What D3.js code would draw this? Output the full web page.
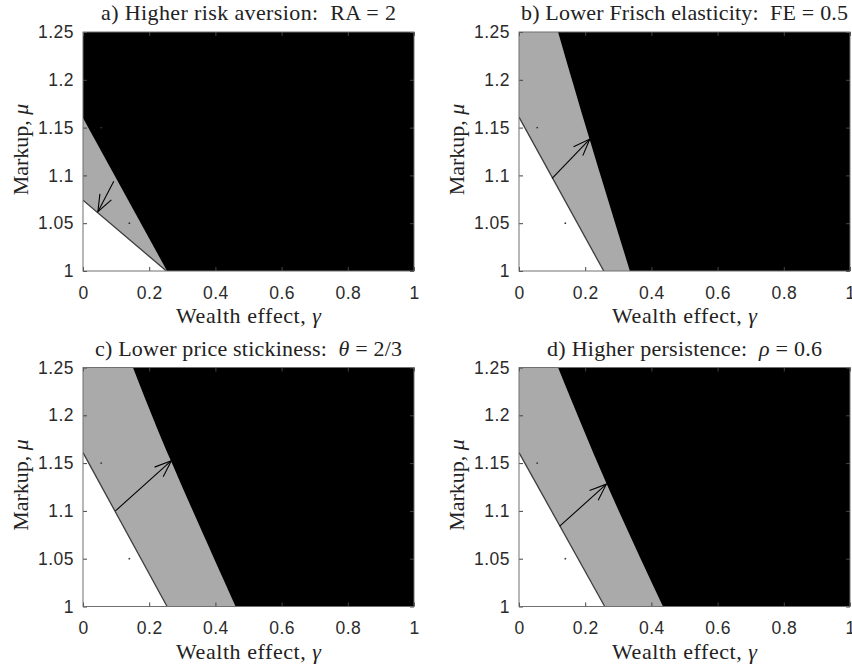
<!DOCTYPE html>
<html>
<head>
<meta charset="utf-8">
<script src="https://cdn.jsdelivr.net/npm/d3@7"></script>
<style>
  body { margin: 0; background: #fff; }
  svg { display: block; }
  .tick text { font-family: "Liberation Sans", Arial, sans-serif; font-size: 17.5px; fill: #2b2b2b; letter-spacing: 0.5px; }
  .ttl, .lbl { font-family: "Liberation Serif", "Times New Roman", serif; font-size: 22px; fill: #222; }
</style>
</head>
<body>
<svg width="852" height="668"></svg>
<script>
// ---- data ----
const xTicks = [0, 0.2, 0.4, 0.6, 0.8, 1]
const yTicks = [1, 1.05, 1.1, 1.15, 1.2, 1.25]
const xTickLabels = ["0", "0.2", "0.4", "0.6", "0.8", "1"]
const yTickLabels = ["1", "1.05", "1.1", "1.15", "1.2", "1.25"]

// title pieces: [text, italic?]
const titles = [
    [["a) Higher risk aversion:  RA = 2", false]],
    [["b) Lower Frisch elasticity:  FE = 0.5", false]],
    [["c) Lower price stickiness:  ", false], ["θ", true], [" = 2/3", false]],
    [["d) Higher persistence:  ", false], ["ρ", true], [" = 0.6", false]]
]
const titleWidths = [295, 327, 307, 275]

// white / gray frontier (gamma, mu)
const lowerBounds = [
    [[0, 1.074], [0.252, 1.0]],
    [[0, 1.161], [0.256, 1.0]],
    [[0, 1.161], [0.254, 1.0]],
    [[0, 1.161], [0.259, 1.0]]
]
// gray / black frontier
const upperBounds = [
    [[0, 1.16], [0.254, 1.0]],
    [[0.118, 1.25], [0.214, 1.137], [0.335, 1.0]],
    [[0.151, 1.25], [0.265, 1.153], [0.461, 1.0]],
    [[0.118, 1.25], [0.264, 1.129], [0.435, 1.0]]
]
// arrows: from -> to
const arrows = [
    [[0.093, 1.094], [0.045, 1.062]],
    [[0.100, 1.097], [0.214, 1.138]],
    [[0.098, 1.100], [0.267, 1.1525]],
    [[0.123, 1.084], [0.264, 1.128]]
]
// tiny specks visible in the plots
const specks = [[0.055, 1.15], [0.14, 1.05]]

// ---- layout ----
const svg = d3.select('svg')
const plotW = 331, plotH = 239
const origins = [[83, 32], [519, 32], [83, 367.5], [519, 367.5]]

const x = d3.scaleLinear().domain([0, 1]).range([0, plotW])
const y = d3.scaleLinear().domain([1, 1.25]).range([plotH, 0])
const line = d3.line().x(d => x(d[0])).y(d => y(d[1]))
const curve = d3.line().x(d => x(d[0])).y(d => y(d[1])).curve(d3.curveNatural)

svg.append('defs').append('clipPath').attr('id', 'plotclip')
    .append('rect').attr('width', plotW).attr('height', plotH)

function drawPanel(i) {
    const g = svg.append('g').attr('transform', `translate(${origins[i][0]},${origins[i][1]})`)
    const area = g.append('g').attr('clip-path', 'url(#plotclip)')

    // black everywhere first
    area.append('rect').attr('width', plotW).attr('height', plotH).attr('fill', '#000')

    // gray region: left of the upper frontier
    let up = upperBounds[i]
    let grayPath = curve(up) + 'L' + x(0) + ',' + y(1) + 'L' + x(0) + ',' + y(up[0][1]) + 'Z'
    area.append('path').attr('d', grayPath).attr('fill', '#aaaaaa')

    // white region: below the lower frontier
    let low = lowerBounds[i]
    area.append('path').attr('d', line(low.concat([[0, 1]])) + 'Z').attr('fill', '#fff')
    area.append('path').attr('d', line(low)).attr('fill', 'none')
        .attr('stroke', '#3c3c3c').attr('stroke-width', 1.3)

    area.selectAll('circle.speck').data(specks).enter().append('circle')
        .attr('class', 'speck')
        .attr('cx', d => x(d[0])).attr('cy', d => y(d[1])).attr('r', 0.9).attr('fill', '#333')

    // arrow with open head
    let a = arrows[i]
    let x0 = x(a[0][0]), y0 = y(a[0][1]), x1 = x(a[1][0]), y1 = y(a[1][1])
    let ang = Math.atan2(y1 - y0, x1 - x0), wing = 18, spread = 21 * Math.PI / 180
    let head = [
        [x1 + wing * Math.cos(ang + Math.PI - spread), y1 + wing * Math.sin(ang + Math.PI - spread)],
        [x1, y1],
        [x1 + wing * Math.cos(ang + Math.PI + spread), y1 + wing * Math.sin(ang + Math.PI + spread)]
    ]
    area.append('line').attr('x1', x0).attr('y1', y0).attr('x2', x1).attr('y2', y1)
        .attr('stroke', '#000').attr('stroke-width', 1.1)
    area.append('path').attr('d', d3.line()(head)).attr('fill', 'none')
        .attr('stroke', '#000').attr('stroke-width', 1.1)

    // axes, ticks pointing inward
    const xAxis = d3.axisBottom(x).tickValues(xTicks).tickSizeInner(-4).tickSizeOuter(0).tickPadding(12)
        .tickFormat((d, k) => xTickLabels[k])
    const yAxis = d3.axisLeft(y).tickValues(yTicks).tickSizeInner(-4).tickSizeOuter(0).tickPadding(9)
        .tickFormat((d, k) => yTickLabels[k])
    const gx = g.append('g').attr('transform', `translate(0,${plotH})`).call(xAxis)
    const gy = g.append('g').call(yAxis)
    g.append('g').call(d3.axisTop(x).tickValues(xTicks).tickSizeInner(-4).tickSizeOuter(0).tickFormat(''))
    g.append('g').attr('transform', `translate(${plotW},0)`)
        .call(d3.axisRight(y).tickValues(yTicks).tickSizeInner(-4).tickSizeOuter(0).tickFormat(''))
    g.selectAll('.domain').remove()
    g.selectAll('.tick line').attr('stroke', '#444')
    gx.selectAll('.tick text').attr('dy', '0.9em')
    g.append('rect').attr('width', plotW).attr('height', plotH)
        .attr('fill', 'none').attr('stroke', '#707070').attr('stroke-width', 1)

    // title
    let t = g.append('text').attr('class', 'ttl').attr('x', plotW / 2).attr('y', -12)
        .attr('text-anchor', 'middle').attr('xml:space', 'preserve')
        .attr('textLength', titleWidths[i]).attr('lengthAdjust', 'spacing')
    titles[i].forEach(p => {
        t.append('tspan').text(p[0]).attr('font-style', p[1] ? 'italic' : 'normal')
    })

    // axis labels
    let xl = g.append('text').attr('class', 'lbl').attr('x', plotW / 2).attr('y', plotH + 52)
        .attr('text-anchor', 'middle').attr('textLength', 145).attr('lengthAdjust', 'spacing')
    xl.append('tspan').text('Wealth effect, ')
    xl.append('tspan').text('γ').attr('font-style', 'italic')

    let yl = g.append('text').attr('class', 'lbl')
        .attr('transform', `translate(-55,${plotH / 2 - 2}) rotate(-90)`).attr('text-anchor', 'middle')
    yl.append('tspan').text('Markup, ')
    yl.append('tspan').text('μ').attr('font-style', 'italic')
}

(function init() {
    d3.range(4).forEach(drawPanel)
})()
</script>
</body>
</html>
